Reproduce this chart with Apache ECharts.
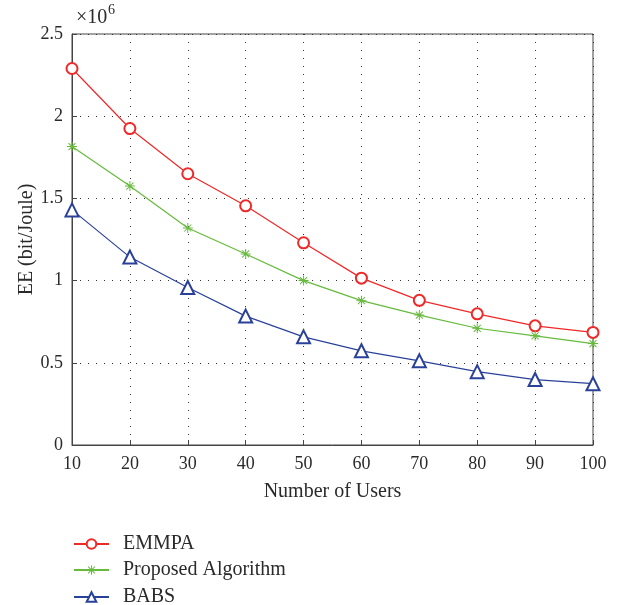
<!DOCTYPE html>
<html>
<head>
<meta charset="utf-8">
<script src="https://cdn.jsdelivr.net/npm/echarts@6/dist/echarts.min.js"></script>
<style>html,body{margin:0;padding:0;background:#fff;}#c{width:629px;height:605px;}</style>
</head>
<body>
<div id="c"></div>
<script>
// Data (EE in units of 1e6 bit/Joule)
var users = [10, 20, 30, 40, 50, 60, 70, 80, 90, 100];
var emmpa = [2.29, 1.925, 1.65, 1.455, 1.23, 1.015, 0.88, 0.798, 0.725, 0.685];
var proposed = [1.815, 1.575, 1.32, 1.162, 1.0, 0.878, 0.79, 0.71, 0.664, 0.617];
var babs = [1.43, 1.143, 0.958, 0.784, 0.658, 0.573, 0.512, 0.446, 0.398, 0.373];
var yTicks = [0, 0.5, 1, 1.5, 2, 2.5];
var seriesNames = ['EMMPA', 'Proposed Algorithm', 'BABS'];

var FONT = '"Liberation Serif", "DejaVu Serif", serif';
var TXT = '#2a2a2a';
var asterisk = 'path://M-1,-10 L1,-10 L1,10 L-1,10 Z M-10,-1 L10,-1 L10,1 L-10,1 Z ' +
  'M-6.3,-7.7 L7.7,6.3 L6.3,7.7 L-7.7,-6.3 Z M-6.3,7.7 L-7.7,6.3 L6.3,-7.7 L7.7,-6.3 Z';

function pairs(arr) { return users.map(function (u, i) { return [u, arr[i]]; }); }

var legendRows = [542, 568, 595];
var legends = seriesNames.map(function (n, i) {
  return {
    orient: 'vertical', left: 73, top: legendRows[i] - 8, padding: 0,
    itemWidth: 35, itemHeight: 12,
    textStyle: { fontFamily: FONT, fontSize: 20, color: TXT, padding: [0, 0, 0, 9] },
    data: [n]
  };
});

var chart = echarts.init(document.getElementById('c'));
chart.setOption({
  animation: false,
  backgroundColor: '#fff',
  grid: { left: 72, right: 36, top: 34, bottom: 160, show: true, borderColor: '#444', borderWidth: 1, backgroundColor: 'transparent' },
  xAxis: {
    type: 'value', min: 10, max: 100, interval: 10,
    name: 'Number of Users', nameLocation: 'middle', nameGap: 37, nameMoveOverlap: false,
    nameTextStyle: { fontFamily: FONT, fontSize: 20, color: TXT },
    axisLine: { show: true, lineStyle: { color: '#444', width: 1 } },
    axisTick: { show: true, inside: true, length: 5, lineStyle: { color: '#444' } },
    axisLabel: { fontFamily: FONT, fontSize: 18, color: TXT, margin: 10 },
    splitLine: { show: true, lineStyle: { color: '#333', type: [1, 7], width: 1 } }
  },
  yAxis: {
    type: 'value', min: 0, max: 2.5, interval: 0.5,
    name: 'EE (bit/Joule)', nameLocation: 'middle', nameGap: 35, nameRotate: 90, nameMoveOverlap: false,
    nameTextStyle: { fontFamily: FONT, fontSize: 20, color: TXT },
    axisLine: { show: true, lineStyle: { color: '#444', width: 1 } },
    axisTick: { show: true, inside: true, length: 5, lineStyle: { color: '#444' } },
    axisLabel: { fontFamily: FONT, fontSize: 18, color: TXT, margin: 9,
      formatter: function (v) { return yTicks.indexOf(v) >= 0 ? String(v) : ''; } },
    splitLine: { show: true, lineStyle: { color: '#333', type: [1, 7], width: 1 } }
  },
  legend: legends,
  graphic: [
    { type: 'text', x: 76, y: 18, style: { text: '×10', font: '20px ' + FONT, fill: TXT, verticalAlign: 'middle' } },
    { type: 'text', x: 108, y: 10, style: { text: '6', font: '14px ' + FONT, fill: TXT, verticalAlign: 'middle' } }
  ],
  series: [
    { name: seriesNames[0], type: 'line', data: pairs(emmpa), symbol: 'emptyCircle', symbolSize: 11,
      color: '#f02828', lineStyle: { width: 1.2 }, itemStyle: { borderWidth: 1.2 } },
    { name: seriesNames[1], type: 'line', data: pairs(proposed), symbol: asterisk, symbolSize: 10,
      color: '#66bb3c', lineStyle: { width: 1.2 } },
    { name: seriesNames[2], type: 'line', data: pairs(babs), symbol: 'emptyTriangle', symbolSize: 13,
      color: '#2a4199', lineStyle: { width: 1.2 }, itemStyle: { borderWidth: 1.2 } }
  ]
});
</script>
</body>
</html>
